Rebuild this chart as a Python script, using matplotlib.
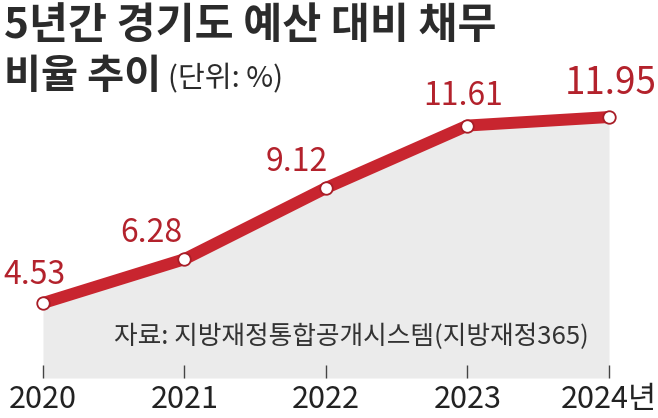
import matplotlib
matplotlib.use('Agg')
import matplotlib.pyplot as plt

plt.rcParams['font.family'] = ['Noto Sans CJK KR', 'DejaVu Sans']

years = [2020, 2021, 2022, 2023, 2024]
year_labels = ['2020', '2021', '2022', '2023', '2024년']
ratios = [4.53, 6.28, 9.12, 11.61, 11.95]
value_labels = ['4.53', '6.28', '9.12', '11.61', '11.95']

LINE_RED = '#c8252f'
TEXT_RED = '#b3222c'
FILL_GRAY = '#ebebeb'

W, H = 658, 418
fig = plt.figure(figsize=(W / 100, H / 100), dpi=100)

# axes covers the whole width, bottom edge at the base of the gray area
ax = fig.add_axes([0, 40 / H, 1, 378 / H])
px_per_year = 141.5
px_per_unit = 25.07
ax.set_xlim(2020 - 43 / px_per_year, 2020 + (W - 43) / px_per_year)
ybot = 1.54
ax.set_ylim(ybot, ybot + 378 / px_per_unit)

ax.fill_between(years, ybot, ratios, color=FILL_GRAY, lw=0, zorder=1)
ax.plot(years, ratios, color=LINE_RED, lw=8.6, solid_capstyle='round',
        solid_joinstyle='round', zorder=3)
ax.plot(years, ratios, ls='none', marker='o', ms=9, mfc='white',
        mec='#a81d27', mew=1.3, zorder=4)

# value labels (offsets in points)
offsets = [(-6, 20), (-24, 19), (-21, 19), (-3, 21), (1.5, 24)]
sizes = [23, 23, 23, 23, 26.5]
for x, y, lab, off, fs in zip(years, ratios, value_labels, offsets, sizes):
    ax.annotate(lab, (x, y), xytext=off, textcoords='offset points',
                ha='center', va='center', fontsize=fs, color=TEXT_RED,
                zorder=5)

ax.set_xticks(years)
ax.set_xticklabels(year_labels, fontsize=22, color='#222222')
ax.tick_params(axis='x', direction='in', length=9.5, width=1, color='#444444', pad=4)
ax.set_yticks([])
for side in ['top', 'right', 'left', 'bottom']:
    ax.spines[side].set_visible(False)

ax.text(2022.18, ybot + (378 - 337) / px_per_unit, '자료: 지방재정통합공개시스템(지방재정365)',
        ha='center', va='center', fontsize=18.5, color='#333333', zorder=5)

# title block
fig.text(4 / W, 1 - 26 / H, '5년간 경기도 예산 대비 채무', fontsize=30.5, fontweight='bold',
         color='#2b2b2b', ha='left', va='center')
fig.text(4 / W, 1 - 76 / H, '비율 추이', fontsize=29, fontweight='bold',
         color='#2b2b2b', ha='left', va='center')
fig.text(168 / W, 1 - 79 / H, '(단위: %)', fontsize=21, color='#2b2b2b',
         ha='left', va='center')

fig.savefig('out.png', dpi=100)
